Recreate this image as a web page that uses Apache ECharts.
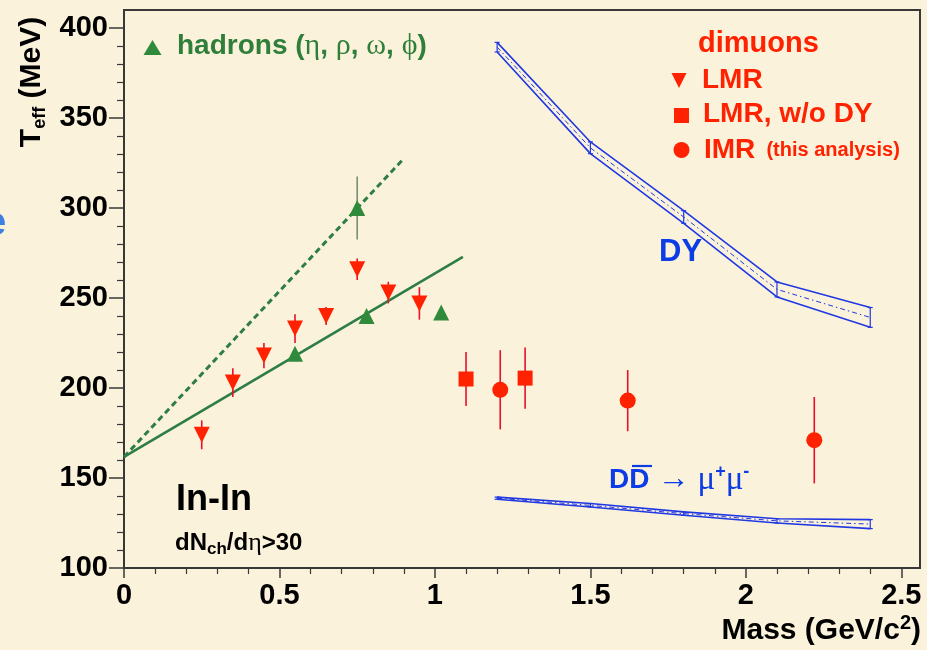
<!DOCTYPE html>
<html>
<head>
<meta charset="utf-8">
<script src="https://cdn.jsdelivr.net/npm/echarts@6/dist/echarts.min.js"></script>
<style>
  html, body { margin: 0; padding: 0; background: #FBF2DB; }
  #chart { width: 927px; height: 650px; }
</style>
</head>
<body>
<div id="chart"></div>
<script>
// Axis ticks and labels
const xMajorTicks = [0, 0.5, 1, 1.5, 2, 2.5];
const xTickLabels = ['0', '0.5', '1', '1.5', '2', '2.5'];
const xMinorTicks = [0.1, 0.2, 0.3, 0.4, 0.6, 0.7, 0.8, 0.9, 1.1, 1.2, 1.3, 1.4,
  1.6, 1.7, 1.8, 1.9, 2.1, 2.2, 2.3, 2.4];
const yMajorTicks = [100, 150, 200, 250, 300, 350, 400];
const yTickLabels = ['100', '150', '200', '250', '300', '350', '400'];
const yMinorTicks = [110, 120, 130, 140, 160, 170, 180, 190, 210, 220, 230, 240,
  260, 270, 280, 290, 310, 320, 330, 340, 360, 370, 380, 390];

// Hadrons (eta, rho, omega, phi)
const hadronMass = [0.55, 0.75, 0.78, 1.02];
const hadronTeff = [219, 300, 240, 242];
const hadronErr = [0, 17.5, 0, 0];

// Linear fits through the hadron points
const fitMass = [0, 1.09];
const fitTeff = [161.7, 272.8];
const fitSteepMass = [0, 0.9];
const fitSteepTeff = [161.7, 327.5];

// Dimuons: low-mass region
const lmrMass = [0.25, 0.35, 0.45, 0.55, 0.65, 0.75, 0.85, 0.95];
const lmrTeff = [174, 203, 218, 233, 240, 266, 253, 247];
const lmrErr = [8, 8, 7, 8, 5, 6, 6, 9];

// Dimuons: low-mass region without Drell-Yan
const lmrNoDyMass = [1.1, 1.29];
const lmrNoDyTeff = [205, 205.5];
const lmrNoDyErr = [15, 17];

// Dimuons: intermediate-mass region
const imrMass = [1.21, 1.62, 2.22];
const imrTeff = [199, 193, 171];
const imrErr = [22, 17, 24];

// Drell-Yan band
const dyMass = [1.2, 1.5, 1.8, 2.1, 2.4];
const dyHigh = [392.0, 336.7, 298.5, 258.9, 244.7];
const dyMid = [389.4, 333.4, 295.0, 254.8, 239.2];
const dyLow = [386.7, 330.2, 291.5, 250.6, 233.7];

// Open charm band
const ddMass = [1.2, 1.5, 1.8, 2.1, 2.4];
const ddHigh = [139.4, 135.8, 131.2, 127.4, 126.9];
const ddMid = [138.8, 134.8, 130.2, 126.2, 124.4];
const ddLow = [138.2, 133.9, 129.3, 125.0, 121.9];

const RED = '#FF2200';
const GREEN = '#2F8A3C';
const GREEN_LINE = '#2E7D45';
const BLUE = '#2038E2';
const TEXT_BLUE = '#0B3CE6';
const AXIS = '#383838';
const SANS = '"Liberation Sans", Arial, sans-serif';
const SERIF = '"Liberation Serif", "Times New Roman", serif';

const zip = (xs, ys) => xs.map((x, i) => [x, ys[i]]);
const zip3 = (xs, ys, zs) => xs.map((x, i) => [x, ys[i], zs[i]]);

// Symmetric vertical error bar: value = [x, y, err]
function errorBar(color, width) {
  return function (params, api) {
    const x = api.value(0), y = api.value(1), e = api.value(2);
    if (!e) return null;
    const hi = api.coord([x, y + e]);
    const lo = api.coord([x, y - e]);
    return {
      type: 'line',
      shape: { x1: hi[0], y1: hi[1], x2: lo[0], y2: lo[1] },
      style: { stroke: color, lineWidth: width }
    };
  };
}

// Vertical band edge at each node: value = [x, low, high]
function bandNode(color) {
  return function (params, api) {
    const x = api.value(0);
    const lo = api.coord([x, api.value(1)]);
    const hi = api.coord([x, api.value(2)]);
    const c = 2.5;
    return {
      type: 'group',
      children: [
        { type: 'line', shape: { x1: lo[0], y1: lo[1], x2: hi[0], y2: hi[1] }, style: { stroke: color, lineWidth: 1.2 } },
        { type: 'line', shape: { x1: lo[0] - c, y1: lo[1], x2: lo[0] + c, y2: lo[1] }, style: { stroke: color, lineWidth: 1.2 } },
        { type: 'line', shape: { x1: hi[0] - c, y1: hi[1], x2: hi[0] + c, y2: hi[1] }, style: { stroke: color, lineWidth: 1.2 } }
      ]
    };
  };
}

function bandLine(name, xs, ys, dashed) {
  return {
    name: name,
    type: 'line',
    data: zip(xs, ys),
    symbol: 'none',
    silent: true,
    z: 3,
    lineStyle: dashed
      ? { color: BLUE, width: 1, type: [5, 3, 1.5, 3] }
      : { color: BLUE, width: 1.6 }
  };
}

const chart = echarts.init(document.getElementById('chart'), null, { renderer: 'canvas' });

const tickLabelStyle = { color: '#000', fontFamily: SANS, fontWeight: 'bold', fontSize: 29 };

const option = {
  animation: false,
  backgroundColor: '#FBF2DB',
  grid: {
    left: 124, right: 7, top: 10, bottom: 82,
    show: true, borderColor: AXIS, borderWidth: 2, backgroundColor: 'transparent'
  },
  xAxis: [
    {
      type: 'value', min: 0, max: 2.56, position: 'bottom',
      axisLine: { onZero: false, lineStyle: { color: AXIS, width: 2 } },
      axisTick: { show: true, length: 10, customValues: xMajorTicks, lineStyle: { color: AXIS, width: 1.5 } },
      axisLabel: Object.assign({
        margin: 13, customValues: xMajorTicks,
        formatter: v => { const i = xMajorTicks.indexOf(v); return i < 0 ? '' : xTickLabels[i]; }
      }, tickLabelStyle),
      splitLine: { show: false }
    },
    {
      type: 'value', min: 0, max: 2.56, position: 'bottom',
      axisLine: { show: false, onZero: false },
      axisTick: { show: true, length: 6, customValues: xMinorTicks, lineStyle: { color: AXIS, width: 1.2 } },
      axisLabel: { show: false },
      splitLine: { show: false }
    }
  ],
  yAxis: [
    {
      type: 'value', min: 100, max: 410, position: 'left',
      axisLine: { onZero: false, lineStyle: { color: AXIS, width: 2 } },
      axisTick: { show: true, length: 15, customValues: yMajorTicks, lineStyle: { color: AXIS, width: 1.5 } },
      axisLabel: Object.assign({
        margin: 16, customValues: yMajorTicks,
        formatter: v => { const i = yMajorTicks.indexOf(v); return i < 0 ? '' : yTickLabels[i]; }
      }, tickLabelStyle),
      splitLine: { show: false }
    },
    {
      type: 'value', min: 100, max: 410, position: 'left',
      axisLine: { show: false, onZero: false },
      axisTick: { show: true, length: 7, customValues: yMinorTicks, lineStyle: { color: AXIS, width: 1.2 } },
      axisLabel: { show: false },
      splitLine: { show: false }
    }
  ],
  series: [
    // Drell-Yan band
    bandLine('DY high', dyMass, dyHigh, false),
    bandLine('DY low', dyMass, dyLow, false),
    bandLine('DY mid', dyMass, dyMid, true),
    { type: 'custom', renderItem: bandNode(BLUE), data: zip3(dyMass, dyLow, dyHigh), encode: { x: 0, y: [1, 2] }, silent: true, z: 3 },
    // Open charm band
    bandLine('DD high', ddMass, ddHigh, false),
    bandLine('DD low', ddMass, ddLow, false),
    bandLine('DD mid', ddMass, ddMid, true),
    { type: 'custom', renderItem: bandNode(BLUE), data: zip3(ddMass, ddLow, ddHigh), encode: { x: 0, y: [1, 2] }, silent: true, z: 3 },
    // Hadron fits
    {
      type: 'line', data: zip(fitMass, fitTeff), symbol: 'none', silent: true, z: 4,
      lineStyle: { color: GREEN_LINE, width: 2.6 }
    },
    {
      type: 'line', data: zip(fitSteepMass, fitSteepTeff), symbol: 'none', silent: true, z: 4,
      lineStyle: { color: GREEN_LINE, width: 3, type: [6, 4] }
    },
    // Error bars
    { type: 'custom', renderItem: errorBar('#7A8F78', 1.6), data: zip3(hadronMass, hadronTeff, hadronErr), encode: { x: 0, y: 1 }, silent: true, z: 5 },
    { type: 'custom', renderItem: errorBar('#E8102A', 1.6), data: zip3(lmrMass, lmrTeff, lmrErr), encode: { x: 0, y: 1 }, silent: true, z: 5 },
    { type: 'custom', renderItem: errorBar('#E8102A', 1.6), data: zip3(lmrNoDyMass, lmrNoDyTeff, lmrNoDyErr), encode: { x: 0, y: 1 }, silent: true, z: 5 },
    { type: 'custom', renderItem: errorBar('#E8102A', 1.6), data: zip3(imrMass, imrTeff, imrErr), encode: { x: 0, y: 1 }, silent: true, z: 5 },
    // Markers
    {
      name: 'hadrons', type: 'scatter', data: zip(hadronMass, hadronTeff), symbol: 'triangle', symbolSize: 16,
      itemStyle: { color: GREEN, opacity: 1 }, z: 6
    },
    {
      name: 'LMR', type: 'scatter', data: zip(lmrMass, lmrTeff), symbol: 'triangle', symbolRotate: 180, symbolSize: 16,
      itemStyle: { color: RED, opacity: 1 }, z: 6
    },
    {
      name: 'LMR, w/o DY', type: 'scatter', data: zip(lmrNoDyMass, lmrNoDyTeff), symbol: 'rect', symbolSize: 15,
      itemStyle: { color: RED, opacity: 1 }, z: 6
    },
    {
      name: 'IMR', type: 'scatter', data: zip(imrMass, imrTeff), symbol: 'circle', symbolSize: 16,
      itemStyle: { color: RED, opacity: 1 }, z: 6
    }
  ],
  graphic: [
    // cut-off word at the left margin
    { type: 'text', x: -16, y: 224, style: { text: 'e', font: 'bold 40px ' + SANS, fill: '#3C7FE0', align: 'left', verticalAlign: 'middle', textAlign: 'left', textVerticalAlign: 'middle' } },
    // Y axis title
    {
      type: 'text', x: 32, y: 82, rotation: Math.PI / 2,
      style: {
        text: '{b|T}{s|eff}{b| (MeV)}', align: 'center', verticalAlign: 'middle', textAlign: 'center', textVerticalAlign: 'middle',
        rich: {
          b: { fontFamily: SANS, fontWeight: 'bold', fontSize: 30, fill: '#000', lineHeight: 35 },
          s: { fontFamily: SANS, fontWeight: 'bold', fontSize: 18, fill: '#000', verticalAlign: 'bottom', lineHeight: 22 }
        }
      }
    },
    // X axis title
    {
      type: 'text', x: 921, y: 631,
      style: {
        text: '{b|Mass (GeV/c}{p|2}{b|)}', align: 'right', verticalAlign: 'middle', textAlign: 'right', textVerticalAlign: 'middle',
        rich: {
          b: { fontFamily: SANS, fontWeight: 'bold', fontSize: 30, fill: '#000', lineHeight: 35 },
          p: { fontFamily: SANS, fontWeight: 'bold', fontSize: 20, fill: '#000', verticalAlign: 'top', lineHeight: 22 }
        }
      }
    },
    // Hadron legend
    { type: 'polygon', shape: { points: [[152.5, 40], [161.5, 55], [143.5, 55]] }, style: { fill: GREEN } },
    {
      type: 'text', x: 177, y: 46,
      style: {
        text: '{b|hadrons (}{g|\u03B7}{b|, }{g|\u03C1}{b|, }{g|\u03C9}{b|, }{g|\u03D5}{b|)}',
        align: 'left', verticalAlign: 'middle', textAlign: 'left', textVerticalAlign: 'middle',
        rich: {
          b: { fontFamily: SANS, fontWeight: 'bold', fontSize: 28, fill: '#2F7F3A' },
          g: { fontFamily: SERIF, fontSize: 30, fill: '#2F7F3A' }
        }
      }
    },
    // Dimuon legend
    { type: 'text', x: 698, y: 44, style: { text: 'dimuons', font: 'bold 29px ' + SANS, fill: RED, align: 'left', verticalAlign: 'middle', textAlign: 'left', textVerticalAlign: 'middle' } },
    { type: 'polygon', shape: { points: [[671.5, 73], [686.5, 73], [679, 88]] }, style: { fill: RED } },
    { type: 'text', x: 702, y: 80, style: { text: 'LMR', font: 'bold 28px ' + SANS, fill: RED, align: 'left', verticalAlign: 'middle', textAlign: 'left', textVerticalAlign: 'middle' } },
    { type: 'rect', shape: { x: 674, y: 108, width: 15, height: 15 }, style: { fill: RED } },
    { type: 'text', x: 703, y: 114, style: { text: 'LMR, w/o DY', font: 'bold 28px ' + SANS, fill: RED, align: 'left', verticalAlign: 'middle', textAlign: 'left', textVerticalAlign: 'middle' } },
    { type: 'circle', shape: { cx: 681.5, cy: 150, r: 8 }, style: { fill: RED } },
    {
      type: 'text', x: 704, y: 150,
      style: {
        text: '{b|IMR}{s|  (this analysis)}', align: 'left', verticalAlign: 'middle', textAlign: 'left', textVerticalAlign: 'middle',
        rich: {
          b: { fontFamily: SANS, fontWeight: 'bold', fontSize: 28, fill: RED, lineHeight: 32 },
          s: { fontFamily: SANS, fontWeight: 'bold', fontSize: 20, fill: RED, lineHeight: 32 }
        }
      }
    },
    // Band labels
    { type: 'text', x: 659, y: 252, style: { text: 'DY', font: 'bold 31px ' + SANS, fill: TEXT_BLUE, align: 'left', verticalAlign: 'middle', textAlign: 'left', textVerticalAlign: 'middle' } },
    {
      type: 'text', x: 609, y: 480,
      style: {
        text: '{b|DD}{a| \u2192 }{g|\u03BC}{p|+}{g|\u03BC}{p|-}', align: 'left', verticalAlign: 'middle', textAlign: 'left', textVerticalAlign: 'middle',
        rich: {
          b: { fontFamily: SANS, fontWeight: 'bold', fontSize: 28, fill: TEXT_BLUE, lineHeight: 34 },
          a: { fontFamily: SERIF, fontSize: 32, fill: TEXT_BLUE, lineHeight: 34 },
          g: { fontFamily: SERIF, fontSize: 33, fill: TEXT_BLUE, lineHeight: 34 },
          p: { fontFamily: SANS, fontWeight: 'bold', fontSize: 18, fill: TEXT_BLUE, verticalAlign: 'top', lineHeight: 22 }
        }
      }
    },
    { type: 'line', shape: { x1: 632, y1: 466, x2: 652, y2: 466 }, style: { stroke: TEXT_BLUE, lineWidth: 2.2 } },
    // System label
    { type: 'text', x: 176, y: 500, style: { text: 'In-In', font: 'bold 36px ' + SANS, fill: '#000', align: 'left', verticalAlign: 'middle', textAlign: 'left', textVerticalAlign: 'middle' } },
    {
      type: 'text', x: 175, y: 543,
      style: {
        text: '{b|dN}{s|ch}{b|/d}{g|\u03B7}{b|>30}', align: 'left', verticalAlign: 'middle', textAlign: 'left', textVerticalAlign: 'middle',
        rich: {
          b: { fontFamily: SANS, fontWeight: 'bold', fontSize: 24, fill: '#000', lineHeight: 30 },
          g: { fontFamily: SERIF, fontSize: 26, fill: '#000', lineHeight: 30 },
          s: { fontFamily: SANS, fontWeight: 'bold', fontSize: 17, fill: '#000', verticalAlign: 'bottom', lineHeight: 22 }
        }
      }
    }
  ]
};

chart.setOption(option);
</script>
</body>
</html>
